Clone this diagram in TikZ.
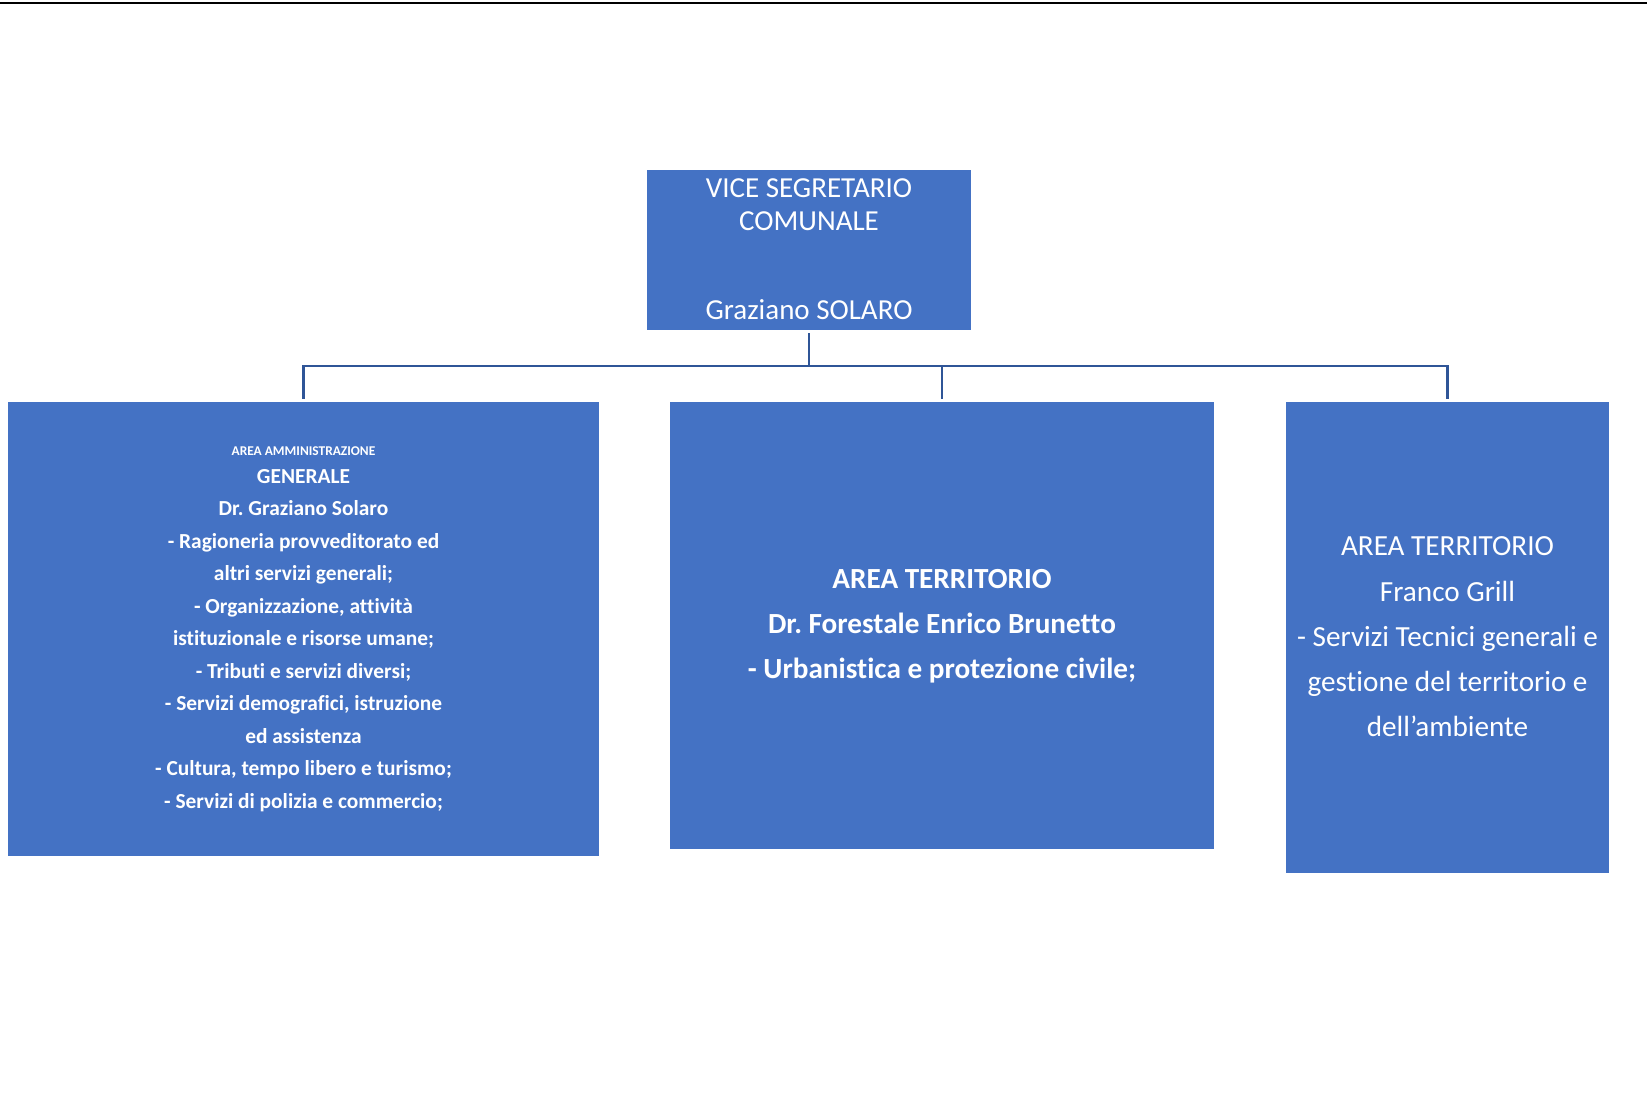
\documentclass[tikz,border=0pt]{standalone}
\usepackage{fontspec}
\setmainfont{Carlito}[Ligatures={NoCommon}]
\frenchspacing
\definecolor{boxblue}{HTML}{4472C4}
\definecolor{linkblue}{HTML}{2F5597}
\tikzset{
  orgbox/.style={draw=none, fill=boxblue, rectangle, inner sep=0pt},
  boxtext/.style={text=white, align=center, inner sep=0pt},
  link/.style={draw=linkblue, line width=1.4pt},
}
\begin{document}
\begin{tikzpicture}[x=0.5pt,y=-0.5pt]
\useasboundingbox (0,0) rectangle (1647,1106);
% top rule
\coordinate (ruleL) at (0,3);
\coordinate (ruleR) at (1647,3);
\draw[line width=1.2pt] (ruleL) -- (ruleR);
% boxes
\node[orgbox, minimum width=162pt, minimum height=80pt] (top) at (809,250) {};
\node[orgbox, minimum width=295.5pt, minimum height=227pt] (left) at (303.5,629) {};
\node[orgbox, minimum width=272pt, minimum height=223.5pt] (mid) at (942,625.5) {};
\node[orgbox, minimum width=161.5pt, minimum height=235.5pt] (right) at (1447.5,637.5) {};
% texts
\node[boxtext, font=\fontsize{14.5}{16.5}\selectfont] (toptext) at (809,249)
  {VICE SEGRETARIO\\COMUNALE\\[28pt]Graziano SOLARO};
\node[boxtext, font=\bfseries\fontsize{10.7}{16.25}\selectfont] (lefttext) at (303.5,629)
  {{\fontsize{6.7}{8}\selectfont AREA AMMINISTRAZIONE}\\[-2.4pt]
   GENERALE\\
   Dr. Graziano Solaro\\
   - Ragioneria provveditorato ed\\
   altri servizi generali;\\
   - Organizzazione, attività\\
   istituzionale e risorse umane;\\
   - Tributi e servizi diversi;\\
   - Servizi demografici, istruzione\\
   ed assistenza\\
   - Cultura, tempo libero e turismo;\\
   - Servizi di polizia e commercio;};
\node[boxtext, font=\bfseries\fontsize{14.6}{22.5}\selectfont] (midtext) at (942,626)
  {AREA TERRITORIO\\
   Dr. Forestale Enrico Brunetto\\
   - Urbanistica e protezione civile;};
\node[boxtext, font=\fontsize{14.6}{22.6}\selectfont] (righttext) at (1447.5,637)
  {AREA TERRITORIO\\
   Franco Grill\\
   - Servizi Tecnici generali e\\
   gestione del territorio e\\
   dell’ambiente};
% connectors
\coordinate (bus) at (809,366);
\draw[link, shorten <=1.5pt] (top.south) -- (bus);
\draw[link, shorten >=1.5pt] (bus) -| (left.north);
\draw[link, shorten >=1.5pt] (bus) -| (mid.north);
\draw[link, shorten >=1.5pt] (bus) -| (right.north);
\end{tikzpicture}
\end{document}
